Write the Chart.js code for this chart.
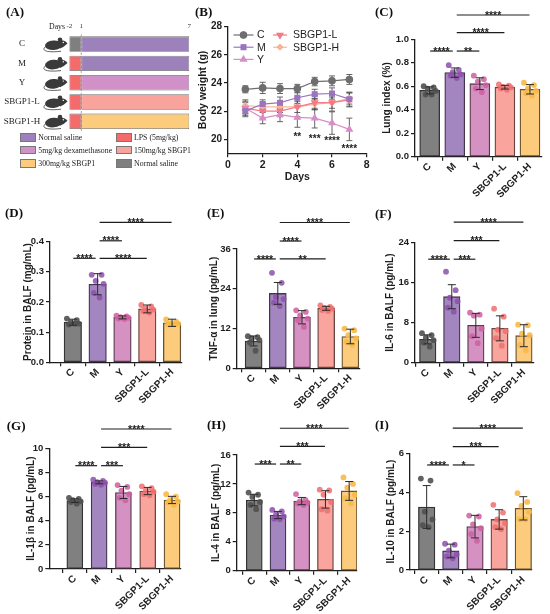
<!DOCTYPE html>
<html><head><meta charset="utf-8">
<script src="https://cdn.jsdelivr.net/npm/chart.js"></script>
<style>
body{margin:0;width:550px;height:614px;background:#fff;position:relative;overflow:hidden;font-family:"Liberation Sans",Arial,sans-serif}
canvas.full{position:absolute;left:0;top:0;width:550px;height:614px}
.pl{position:absolute;font:bold 13px "Liberation Serif","Times New Roman",serif;color:#111;line-height:13px;white-space:nowrap}
.lg{position:absolute;font:7.8px "Liberation Serif","Times New Roman",serif;color:#222;line-height:9px;white-space:nowrap}
.sw{position:absolute;width:16px;height:8.3px;border:0.8px solid #777;box-sizing:border-box}
</style></head><body>
<canvas id="cA" class="full" width="550" height="614"></canvas>
<canvas id="cB" class="full" width="550" height="614"></canvas>
<canvas id="cC" class="full" width="550" height="614"></canvas>
<canvas id="cD" class="full" width="550" height="614"></canvas>
<canvas id="cE" class="full" width="550" height="614"></canvas>
<canvas id="cF" class="full" width="550" height="614"></canvas>
<canvas id="cG" class="full" width="550" height="614"></canvas>
<canvas id="cH" class="full" width="550" height="614"></canvas>
<canvas id="cI" class="full" width="550" height="614"></canvas>
<div id="overlay"></div>
<script>
// ---------------- DATA ----------------
const groups = ['C','M','Y','SBGP1-L','SBGP1-H'];

// (A) schematic: timeline tick labels and phases
const dayTickLabels = ['-2','1','7'];
const dayTickPos = [0,1,10];           // schematic (not to scale) timeline positions
const prePhase = [0,1];
const treatPhase = [1,10];
const preAgent = ['Normal saline','LPS (5mg/kg)','LPS (5mg/kg)','LPS (5mg/kg)','LPS (5mg/kg)'];
const treatAgent = ['Normal saline','Normal saline','5mg/kg dexamethasone','150mg/kg SBGP1','300mg/kg SBGP1'];
const legendCol1 = ['Normal saline','5mg/kg dexamethasone','300mg/kg SBGP1'];
const legendCol2 = ['LPS (5mg/kg)','150mg/kg SBGP1','Normal saline'];

// (B) body weight
const days = [1,2,3,4,5,6,7];
const bwC = [23.55,23.65,23.6,23.6,24.1,24.15,24.25];
const bwM = [22.0,22.5,22.6,22.95,23.2,23.25,22.85];
const bwY = [22.2,21.5,21.75,21.55,21.5,21.15,20.7];
const bwL = [22.2,22.0,22.0,22.3,22.6,22.6,22.8];
const bwH = [22.4,22.3,22.3,22.3,22.5,22.6,22.9];
const bwSdC = [0.25,0.4,0.35,0.3,0.3,0.35,0.35];
const bwSdM = [0.3,0.3,0.4,0.4,0.35,0.4,0.5];
const bwSdY = [0.6,0.4,0.5,0.7,0.7,0.8,0.8];
const bwSdL = [0.4,0.5,0.4,0.7,0.5,0.6,0.5];
const bwSdH = [0.3,0.3,0.4,0.4,0.4,0.4,0.4];
const bwStars = ['','','','**','***','****','****'];
const bwStarY = [null,null,null,20.3,20.15,20.05,19.5];
const bwTicks = [20,22,24,26,28];

// (C) lung index
const lungMean = [0.565,0.716,0.622,0.592,0.574];
const lungSd = [0.03,0.04,0.05,0.016,0.04];
const lungPts = [[0.60,0.59,0.58,0.56,0.53,0.53],[0.78,0.74,0.72,0.70,0.69,0.67],[0.69,0.66,0.64,0.61,0.58,0.55],[0.615,0.605,0.595,0.59,0.58,0.57],[0.63,0.61,0.58,0.56,0.54,0.52]];
const lungSig = [[0,1,0.90,'****'],[1,2,0.90,'**'],[1,3,1.057,'****'],[1,4,1.207,'****']];

// (D) protein in BALF
const protMean = [0.133,0.259,0.149,0.177,0.131];
const protSd = [0.01,0.035,0.005,0.013,0.012];
const protPts = [[0.145,0.14,0.132,0.128,0.125,0.128],[0.29,0.29,0.27,0.26,0.23,0.215],[0.155,0.152,0.15,0.148,0.145,0.144],[0.19,0.185,0.178,0.175,0.17,0.165],[0.142,0.135,0.13,0.128,0.125,0.126]];
const protSig = [[0,1,0.345,'****'],[1,2,0.403,'****'],[1,3,0.345,'****'],[1,4,0.464,'****']];

// (E) TNF-alpha in lung
const tnfMean = [8.25,22.6,15.4,18.1,9.6];
const tnfSd = [1.5,3.3,2.0,0.6,2.2];
const tnfPts = [[9.7,9.4,9.0,8.5,7.8,5.3],[28.8,25.8,21.5,20.9,19.8,18.8],[17.5,17.0,16.0,15.0,14.5,12.5],[19.0,18.5,18.2,18.0,17.6,17.3],[12.0,11.5,10.0,9.0,8.0,7.1]];
const tnfSig = [[0,1,33.0,'****'],[1,2,38.4,'****'],[1,3,33.0,'**'],[1,4,44.0,'****']];

// (F) IL-6 in BALF
const il6Mean = [4.67,13.2,7.47,6.87,5.4];
const il6Sd = [0.9,2.4,2.4,2.5,2.2];
const il6Pts = [[5.9,5.5,5.0,4.5,4.0,3.2],[18.2,14.5,13.0,12.3,11.0,10.2],[10.0,9.6,9.4,6.8,5.3,3.9],[10.8,9.2,6.6,6.3,4.9,3.4],[7.6,7.5,5.8,5.5,3.5,2.5]];
const il6Sig = [[0,1,20.7,'****'],[1,2,20.7,'***'],[1,3,24.4,'***'],[1,4,28.1,'****']];

// (G) IL-1beta in BALF
const il1Mean = [5.66,7.18,6.34,6.46,5.72];
const il1Sd = [0.15,0.12,0.5,0.3,0.3];
const il1Pts = [[5.9,5.8,5.7,5.6,5.55,5.41],[7.4,7.3,7.2,7.15,7.05,6.98],[6.95,6.8,6.5,6.2,5.9,5.69],[6.85,6.7,6.5,6.4,6.2,6.1],[6.2,6.0,5.7,5.6,5.5,5.3]];
const il1Sig = [[0,1,8.56,'****'],[1,2,8.56,'***'],[1,3,10.08,'***'],[1,4,11.6,'****']];

// (H) IL-4 in BALF
const il4Mean = [9.77,7.7,9.63,9.86,11.03];
const il4Sd = [0.8,0.5,0.5,1.2,1.3];
const il4Pts = [[10.8,10.5,10.2,9.5,9.1,8.5],[8.4,8.2,7.8,7.5,7.2,7.1],[10.6,9.8,9.6,9.4,9.3,9.1],[11.2,11.1,10.5,9.5,8.5,8.3],[12.9,12.0,11.5,10.5,10.0,9.3]];
const il4Sig = [[0,1,14.75,'***'],[1,2,14.75,'**'],[1,3,17.2,'***'],[1,4,19.7,'****']];

// (I) IL-10 in BALF
const il10Mean = [3.24,0.98,2.23,2.6,3.17];
const il10Sd = [1.1,0.35,0.58,0.5,0.6];
const il10Pts = [[4.7,4.6,3.0,2.6,2.3,2.2],[1.35,1.3,1.0,0.8,0.7,0.6],[2.8,2.75,2.35,2.15,1.85,1.5],[3.35,2.95,2.6,2.4,2.2,2.1],[3.95,3.5,3.3,3.0,2.6,2.6]];
const il10Sig = [[0,1,5.4,'****'],[1,2,5.4,'*'],[1,3,6.34,'***'],[1,4,7.29,'****']];

// ---------------- STYLE ----------------
const SANS = "'Liberation Sans', Arial, sans-serif";
const SERIF = "'Liberation Serif', 'Times New Roman', serif";
Chart.defaults.font.family = SANS;
Chart.defaults.color = '#1e1e1e';
const barFill = ['#808080','#a386bf','#d691c3','#f9a49c','#fdcb7c'];
const barEdge = ['#333333','#45364f','#583a4d','#6a4440','#6a5230'];
const dotCol = ['rgba(80,80,80,0.9)','rgba(140,80,170,0.85)','rgba(205,95,160,0.85)','rgba(240,110,110,0.85)','rgba(248,185,70,0.9)'];
const JIT = [-0.24,0.16,-0.08,0.24,-0.16,0.08];
const agentColor = {'Normal saline':'#9d81ba','LPS (5mg/kg)':'#f36b6b','5mg/kg dexamethasone':'#d090c8','150mg/kg SBGP1':'#f8a39b','300mg/kg SBGP1':'#fccb7c'};
const preColor = {'Normal saline':'#7f7f7f','LPS (5mg/kg)':'#f36b6b'};
const AX = '#1e1e1e';

const errPlugin = {
  id:'errbars',
  beforeDatasetsDraw(chart){ if (chart.config.type==='line') drawErr(chart); },
  afterDatasetsDraw(chart){ if (chart.config.type!=='line') drawErr(chart); }
};
function drawErr(chart){
  const ctx = chart.ctx, y = chart.scales.y;
  chart.data.datasets.forEach((ds,di)=>{
    if (!ds.sd) return;
    const meta = chart.getDatasetMeta(di);
    const cap = ds.capHalf || 4;
    ctx.save();
    ctx.strokeStyle = ds.errColor || '#2a2a2a';
    ctx.lineWidth = ds.errWidth || 1;
    meta.data.forEach((el,k)=>{
      const v = ds.data[k].y, s = ds.sd[k];
      const yt = y.getPixelForValue(v+s), yb = y.getPixelForValue(v-s);
      ctx.beginPath();
      ctx.moveTo(el.x,yt); ctx.lineTo(el.x,yb);
      ctx.moveTo(el.x-cap,yt); ctx.lineTo(el.x+cap,yt);
      ctx.moveTo(el.x-cap,yb); ctx.lineTo(el.x+cap,yb);
      ctx.stroke();
    });
    ctx.restore();
  });
}
const bracketPlugin = {
  id:'brackets',
  afterDatasetsDraw(chart, args, opts){
    const {ctx, scales:{x,y}} = chart;
    ctx.save();
    ctx.strokeStyle = AX; ctx.fillStyle = AX; ctx.lineWidth = 1.2;
    ctx.font = "bold 10.5px " + SANS; ctx.textAlign='center'; ctx.textBaseline='alphabetic';
    (opts.items||[]).forEach(([i,j,v,s])=>{
      const x1 = x.getPixelForValue(i + (i===0?0.02:0.08));
      const x2 = x.getPixelForValue(j - (j===1?0.08:0.02));
      const yy = y.getPixelForValue(v);
      ctx.beginPath(); ctx.moveTo(x1,yy); ctx.lineTo(x2,yy); ctx.stroke();
      ctx.fillText(s,(x1+x2)/2,yy+3.6);
    });
    ctx.restore();
  }
};

function barChart(id, mean, sd, pts, sig, title, L){
  const padL = L.titleX - 6;
  const xh = Math.min(52, 614 - L.areaB);
  const dots = [], cols = [];
  pts.forEach((arr,i)=>arr.forEach((v,k)=>{ dots.push({x:i+JIT[k], y:v}); cols.push(dotCol[i]); }));
  new Chart(document.getElementById(id), {
    type:'bar',
    data:{datasets:[
      {type:'scatter', order:0, data:dots, pointRadius:2.9, pointBackgroundColor:cols, pointBorderWidth:0, pointHoverRadius:2.9},
      {type:'bar', order:1, data:mean.map((m,i)=>({x:i,y:m})), sd:sd, backgroundColor:barFill, borderColor:barEdge,
       borderWidth:1.3, borderSkipped:false, barThickness:L.bw, capHalf:4}
    ]},
    options:{
      responsive:false, animation:false, events:[],
      layout:{padding:{left:padL, top:L.areaT, right:550-L.areaR, bottom:614-L.areaB-xh}},
      plugins:{legend:{display:false}, tooltip:{enabled:false}, brackets:{items:sig}},
      scales:{
        x:{type:'linear', offset:false, min:L.xmin, max:L.xmax,
           afterBuildTicks(s){ s.ticks = groups.map((g,i)=>({value:i})); },
           ticks:{autoSkip:false, minRotation:45, maxRotation:45, padding:0, font:{size:10, weight:'bold'}, color:AX,
                  callback:(v)=>groups[v]},
           grid:{drawOnChartArea:false, tickLength:4, color:AX, lineWidth:1.2},
           border:{color:AX, width:1.3},
           afterFit(s){ s.height = xh; }},
        y:{min:0, max:L.ymax,
           ticks:{stepSize:L.step, padding:2, font:{size:9.5, weight:'bold'}, color:AX,
                  callback:(v)=> L.dec ? Number(v).toFixed(L.dec) : v},
           grid:{drawOnChartArea:false, tickLength:4, color:AX, lineWidth:1.2},
           border:{color:AX, width:1.3},
           title:{display:true, text:title, font:{size:10, weight:'bold'}, color:AX, padding:0},
           afterFit(s){ s.width = L.areaL - padL; }}
      }
    },
    plugins:[errPlugin, bracketPlugin]
  });
}

barChart('cC', lungMean, lungSd, lungPts, lungSig, 'Lung index (%)',
  {areaL:415, areaR:542, areaT:39.3, areaB:156.7, titleX:387, xmin:-0.586, xmax:4.48, bw:20, ymax:1.0, step:0.2, dec:1});
barChart('cD', protMean, protSd, protPts, protSig, 'Protein in BALF (mg/mL)',
  {areaL:50, areaR:182, areaT:241.7, areaB:362.3, titleX:28.3, xmin:-0.92, xmax:4.40, bw:17.5, ymax:0.4, step:0.1, dec:1});
barChart('cE', tnfMean, tnfSd, tnfPts, tnfSig, 'TNF-α in lung (pg/mL)',
  {areaL:236.7, areaR:360, areaT:249, areaB:368.3, titleX:214.3, xmin:-0.70, xmax:4.40, bw:17, ymax:36, step:12});
barChart('cF', il6Mean, il6Sd, il6Pts, il6Sig, 'IL-6 in BALF (pg/mL)',
  {areaL:415, areaR:534, areaT:242.7, areaB:362.7, titleX:390, xmin:-0.53, xmax:4.42, bw:16.5, ymax:24, step:8});
barChart('cG', il1Mean, il1Sd, il1Pts, il1Sig, 'IL-1β in BALF (pg/mL)',
  {areaL:49.3, areaR:181, areaT:448.3, areaB:569, titleX:31.7, xmin:-1.05, xmax:4.37, bw:16, ymax:10, step:2});
barChart('cH', il4Mean, il4Sd, il4Pts, il4Sig, 'IL-4 in BALF (pg/mL)',
  {areaL:236.7, areaR:357, areaT:455, areaB:570.7, titleX:216.7, xmin:-0.74, xmax:4.33, bw:16, ymax:16, step:4});
barChart('cI', il10Mean, il10Sd, il10Pts, il10Sig, 'IL-10 in BALF (pg/mL)',
  {areaL:410, areaR:532, areaT:453.3, areaB:570, titleX:391.7, xmin:-0.69, xmax:4.36, bw:16.5, ymax:6, step:2});

// ---------------- (B) ----------------
const bwSeries = [
  {name:'C', v:bwC, sd:bwSdC, col:'#6e6e6e', ps:'circle', rot:0, r:3.2},
  {name:'M', v:bwM, sd:bwSdM, col:'#9b74c0', ps:'rect', rot:0, r:3.4},
  {name:'Y', v:bwY, sd:bwSdY, col:'#d98cc8', ps:'triangle', rot:0, r:3.4},
  {name:'SBGP1-L', v:bwL, sd:bwSdL, col:'#f47a86', ps:'triangle', rot:180, r:3.4},
  {name:'SBGP1-H', v:bwH, sd:bwSdH, col:'#f9b596', ps:'rectRot', rot:0, r:2.8}
];
const bLegend = {
  id:'bLegend',
  afterDraw(chart){
    const ctx = chart.ctx;
    ctx.save();
    ctx.font = "10.5px " + SANS; ctx.textBaseline='middle'; ctx.fillStyle = AX;
    chart.data.datasets.forEach((ds,k)=>{
      const col = k<3?0:1, row = k<3?k:k-3;
      const x0 = col? 273 : 233.5, x1 = col? 287 : 253.5, tx = col? 293 : 257;
      const y = 35 + row*12.2;
      ctx.strokeStyle = ds.borderColor; ctx.lineWidth = 1.2;
      ctx.beginPath(); ctx.moveTo(x0,y); ctx.lineTo(x1,y); ctx.stroke();
      Chart.helpers.drawPoint(ctx, {pointStyle:ds.pointStyle, rotation:ds.pointRotation, radius:ds.pointRadius, borderWidth:1}, (x0+x1)/2, y);
      ctx.fillStyle = ds.borderColor;
      ctx.fill();
      ctx.fillStyle = AX;
      ctx.fillText(ds.label, tx, y+0.5);
    });
    // significance stars
    const xs = chart.scales.x, ys = chart.scales.y;
    ctx.font = "bold 10px " + SANS; ctx.textAlign='center';
    days.forEach((d,k)=>{ if (bwStars[k]) ctx.fillText(bwStars[k], xs.getPixelForValue(d), ys.getPixelForValue(bwStarY[k])+2.5); });
    ctx.restore();
  }
};
new Chart(document.getElementById('cB'), {
  type:'line',
  data:{datasets: bwSeries.map(s=>({label:s.name, data:days.map((d,k)=>({x:d,y:s.v[k]})), sd:s.sd,
    borderColor:s.col, backgroundColor:s.col, pointBackgroundColor:s.col, pointBorderColor:s.col,
    pointStyle:s.ps, pointRotation:s.rot, pointRadius:s.r, borderWidth:1.2, tension:0,
    errColor:'#555', errWidth:0.9, capHalf:3}))},
  options:{
    responsive:false, animation:false, events:[],
    layout:{padding:{left:197, top:26.7, right:550-366.7, bottom:614-153.3-31}},
    plugins:{legend:{display:false}, tooltip:{enabled:false}},
    scales:{
      x:{type:'linear', min:0, max:8,
         ticks:{stepSize:2, padding:2, font:{size:10.5, weight:'bold'}, color:AX},
         grid:{drawOnChartArea:false, tickLength:4, color:AX, lineWidth:1.2},
         border:{color:AX, width:1.3},
         title:{display:true, text:'Days', font:{size:10.5, weight:'bold'}, color:AX, padding:{top:0,bottom:1}},
         afterFit(s){ s.height = 31; }},
      y:{min:19, max:28,
         afterBuildTicks(s){ s.ticks = bwTicks.map(v=>({value:v})); },
         ticks:{padding:2, font:{size:10, weight:'bold'}, color:AX},
         grid:{drawOnChartArea:false, tickLength:4, color:AX, lineWidth:1.2},
         border:{color:AX, width:1.3},
         title:{display:true, text:'Body weight (g)', font:{size:10.5, weight:'bold'}, color:AX, padding:0},
         afterFit(s){ s.width = 228-197; }}
    }
  },
  plugins:[errPlugin, bLegend]
});

// ---------------- (A) ----------------
function drawMouse(ctx, cx, cy){
  ctx.save();
  ctx.fillStyle = '#3a3a3a'; ctx.strokeStyle = '#3a3a3a';
  ctx.beginPath(); ctx.ellipse(cx-1.5, cy+1.2, 8.5, 4.8, -0.08, 0, Math.PI*2); ctx.fill();
  ctx.beginPath(); ctx.moveTo(cx+3, cy-3.2); ctx.quadraticCurveTo(cx+9, cy-5, cx+12.5, cy-0.5);
  ctx.quadraticCurveTo(cx+9, cy+3, cx+5, cy+4.5); ctx.closePath(); ctx.fill();
  ctx.beginPath(); ctx.arc(cx+5, cy-4.2, 2.3, 0, Math.PI*2); ctx.fill();
  ctx.lineWidth = 0.8;
  ctx.beginPath(); ctx.moveTo(cx-9.5, cy+2.5); ctx.bezierCurveTo(cx-15, cy+7.5, cx-5, cy+8.5, cx+6, cy+7.2); ctx.stroke();
  ctx.fillStyle = '#fff';
  ctx.beginPath(); ctx.arc(cx+8.3, cy-1.6, 0.7, 0, Math.PI*2); ctx.fill();
  ctx.restore();
}
const aDecor = {
  id:'aDecor',
  afterDatasetsDraw(chart){
    const {ctx, scales:{x,y}, chartArea} = chart;
    groups.forEach((g,i)=> drawMouse(ctx, 55, y.getPixelForValue(i)));
    const bx = x.getPixelForValue(treatPhase[0]);
    ctx.save(); ctx.strokeStyle = '#8a8a8a'; ctx.lineWidth = 0.8; ctx.setLineDash([2.5,2]);
    ctx.beginPath(); ctx.moveTo(bx, chartArea.top); ctx.lineTo(bx, chartArea.bottom); ctx.stroke();
    ctx.restore();
  }
};
new Chart(document.getElementById('cA'), {
  type:'bar',
  data:{labels:groups, datasets:[
    {data:groups.map(()=>prePhase), backgroundColor:preAgent.map(a=>preColor[a]), grouped:false,
     borderColor:'#6a6a6a', borderWidth:0.8, borderSkipped:false, barPercentage:0.8, categoryPercentage:1},
    {data:groups.map(()=>treatPhase), backgroundColor:treatAgent.map(a=>agentColor[a]), grouped:false,
     borderColor:'#6a6a6a', borderWidth:0.8, borderSkipped:false, barPercentage:0.8, categoryPercentage:1}
  ]},
  options:{
    indexAxis:'y', responsive:false, animation:false, events:[],
    layout:{padding:{left:0, top:16, right:550-189.3, bottom:614-131}},
    plugins:{legend:{display:false}, tooltip:{enabled:false}},
    scales:{
      x:{type:'linear', position:'top', min:0, max:10,
         afterBuildTicks(s){ s.ticks = dayTickPos.map(v=>({value:v})); },
         ticks:{autoSkip:false, maxRotation:0, padding:4, font:{family:SERIF, size:7}, color:'#333',
                callback:(v)=> dayTickLabels[dayTickPos.indexOf(v)]},
         grid:{display:false, drawTicks:false}, border:{display:false},
         afterFit(s){ s.height = 33.5-16; }},
      y:{type:'category', offset:true,
         ticks:{crossAlign:'center', padding:29, font:{family:SERIF, size:9}, color:'#1e1e1e'},
         grid:{display:false, drawTicks:false}, border:{display:false},
         afterFit(s){ s.width = 69.3; }}
    }
  },
  plugins:[aDecor]
});

// ---------------- HTML text: panel letters, legend of A ----------------
const ov = document.getElementById('overlay');
function addDiv(cls, txt, x, y, extra){ const d=document.createElement('div'); d.className=cls; if(txt!==null) d.textContent=txt; d.style.left=x+'px'; d.style.top=y+'px'; if(extra) Object.assign(d.style, extra); ov.appendChild(d); return d; }
[['(A)',6,4.8],['(B)',195,4.5],['(C)',375,4.5],['(D)',5,205.5],['(E)',207,205.5],['(F)',375,206.5],['(G)',6.7,419],['(H)',207,417.5],['(I)',375,417.5]]
  .forEach(([t,x,y])=>addDiv('pl',t,x,y));
addDiv('lg','Days',49,21.5);
const legRowY = [133.4,146,159.3];
legendCol1.forEach((t,r)=>{ addDiv('sw',null,20,legRowY[r],{background:agentColor[t]}); addDiv('lg',t,38.3,legRowY[r]); });
legendCol2.forEach((t,r)=>{ addDiv('sw',null,115.5,legRowY[r],{background: r===2 ? preColor[t] : agentColor[t]}); addDiv('lg',t,134,legRowY[r]); });
</script>
</body></html>
